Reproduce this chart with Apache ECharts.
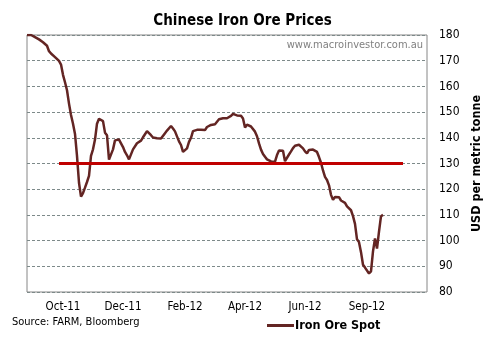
<!DOCTYPE html>
<html>
<head>
<meta charset="utf-8">
<script src="https://cdn.jsdelivr.net/npm/echarts@6/dist/echarts.min.js"></script>
<style>
  html, body { margin: 0; padding: 0; background: #fff; }
  #chart { width: 485px; height: 345px; }
</style>
</head>
<body>
<div id="chart"></div>
<script>
// Iron ore spot price, USD per metric tonne, Sep-2011 to Sep-2012
const ironOreSpot = [
  180.0, 180.0, 180.0, 179.8, 179.2, 178.8, 178.3, 177.6, 177.2, 176.8,
  175.8, 173.7, 172.8, 172.1, 171.4, 170.7, 169.9, 168.5, 164.5, 161.6,
  158.5, 153.3, 148.9, 145.5, 141.5, 133.0, 122.5, 117.1, 118.5, 120.6,
  122.8, 125.2, 133.0, 135.5, 139.3, 145.5, 147.4, 147.4, 146.5, 142.0,
  141.0, 131.5, 130.8, 135.5, 139.0, 139.3, 139.3, 138.9, 136.4, 134.5,
  133.2, 131.6, 132.2, 135.5, 136.1, 137.9, 138.5, 138.9, 140.2, 141.4,
  142.6, 142.5, 141.0, 140.1, 139.9, 139.8, 139.7, 139.7, 139.7, 141.8,
  142.8, 143.3, 144.6, 143.6, 142.5, 142.2, 138.6, 137.2, 134.5, 134.8,
  135.9, 138.4, 140.0, 142.6, 143.1, 143.1, 143.1, 143.1, 142.6, 143.0,
  144.2, 144.9, 145.0, 145.2, 145.3, 145.8, 147.2, 147.6, 147.6, 147.6,
  147.6, 147.8, 148.5, 149.3, 149.5, 148.7, 148.8, 148.6, 147.5, 144.0,
  145.1, 145.4, 144.4, 143.9, 142.4, 140.6, 137.8, 135.4, 133.7, 132.6,
  131.6, 131.0, 130.8, 130.8, 130.7, 133.3, 135.1, 135.1, 135.0, 130.9,
  131.5, 133.5, 134.7, 136.0, 136.9, 137.3, 137.3, 136.8, 135.9, 134.7,
  133.9, 135.3, 135.4, 135.4, 135.4, 134.5, 132.5, 130.3, 127.3, 124.8,
  123.6, 121.5, 117.8, 115.9, 117.0, 117.3, 116.9, 115.6, 115.0, 114.7,
  113.3, 113.2, 111.8, 109.5, 106.5, 100.5, 99.4, 95.5, 90.6, 89.5,
  89.3, 87.2, 88.0, 95.8, 100.8, 96.9, 103.5, 109.5, 110.0
];

// Horizontal reference level and the observation span it covers
const referenceLevel = 130;
const referenceFrom = 16;
const referenceTo = 188;

// Month labels and the observations they sit under
const tickLabels = ['Oct-11', 'Dec-11', 'Feb-12', 'Apr-12', 'Jun-12', 'Sep-12'];
const tickIndex = [18, 48, 79, 109, 139, 170];
const observationCount = 201;

const yMin = 80, yMax = 180, yStep = 10;

const categories = [];
for (let i = 0; i < observationCount; i++) {
  const k = tickIndex.indexOf(i);
  categories.push(k >= 0 ? tickLabels[k] : '');
}

const FONT = "'DejaVu Sans Condensed', 'DejaVu Sans', sans-serif";

const chart = echarts.init(document.getElementById('chart'), null, { renderer: 'canvas' });

chart.setOption({
  animation: false,
  backgroundColor: '#ffffff',
  title: {
    text: 'Chinese Iron Ore Prices',
    left: 'center',
    top: 9,
    textStyle: { fontFamily: FONT, fontSize: 15, fontWeight: 'bold', color: '#000' }
  },
  grid: {
    left: 27, top: 35, width: 400, height: 257,
    outerBoundsMode: 'none',
    containLabel: false,
    show: true, borderColor: '#868686', borderWidth: 1, backgroundColor: 'transparent'
  },
  xAxis: {
    type: 'category',
    data: categories,
    boundaryGap: false,
    axisLine: { show: false },
    axisTick: { show: false },
    splitLine: { show: false },
    axisLabel: {
      interval: (idx) => tickIndex.indexOf(idx) >= 0,
      margin: 9,
      fontFamily: FONT, fontSize: 11.5, color: '#000'
    }
  },
  yAxis: {
    type: 'value',
    position: 'right',
    min: yMin, max: yMax, interval: yStep,
    axisLine: { show: false },
    axisTick: { show: false },
    axisLabel: { margin: 12, fontFamily: FONT, fontSize: 12, color: '#000' },
    splitLine: { show: true, lineStyle: { color: '#7d8a8a', type: [3, 2], width: 1 } },
    name: 'USD per metric tonne',
    nameLocation: 'middle',
    nameRotate: 90,
    nameGap: 40,
    nameTextStyle: { fontFamily: FONT, fontSize: 12.5, fontWeight: 'bold', color: '#000' }
  },
  legend: {
    data: ['Iron Ore Spot'],
    left: 262, top: 314,
    itemWidth: 27, itemHeight: 3, itemGap: 2,
    icon: 'rect',
    textStyle: { fontFamily: FONT, fontSize: 12.5, fontWeight: 'bold', color: '#000', padding: [0, 0, 0, -4] }
  },
  graphic: [
    {
      type: 'text', right: 62, top: 40,
      style: { text: 'www.macroinvestor.com.au', fontFamily: FONT, fontSize: 11, fill: '#808080' }
    },
    {
      type: 'text', left: 12, top: 317,
      style: { text: 'Source: FARM, Bloomberg', fontFamily: FONT, fontSize: 11, fill: '#000' }
    }
  ],
  series: [
    {
      name: 'Iron Ore Spot',
      type: 'line',
      data: ironOreSpot,
      showSymbol: false,
      symbol: 'none',
      lineStyle: { color: '#632523', width: 2.5 },
      itemStyle: { color: '#632523' },
      z: 2
    },
    {
      name: 'Reference',
      type: 'line',
      data: [[referenceFrom, referenceLevel], [referenceTo, referenceLevel]],
      showSymbol: false,
      symbol: 'none',
      lineStyle: { color: '#c00000', width: 3 },
      z: 3
    }
  ]
});
</script>
</body>
</html>
